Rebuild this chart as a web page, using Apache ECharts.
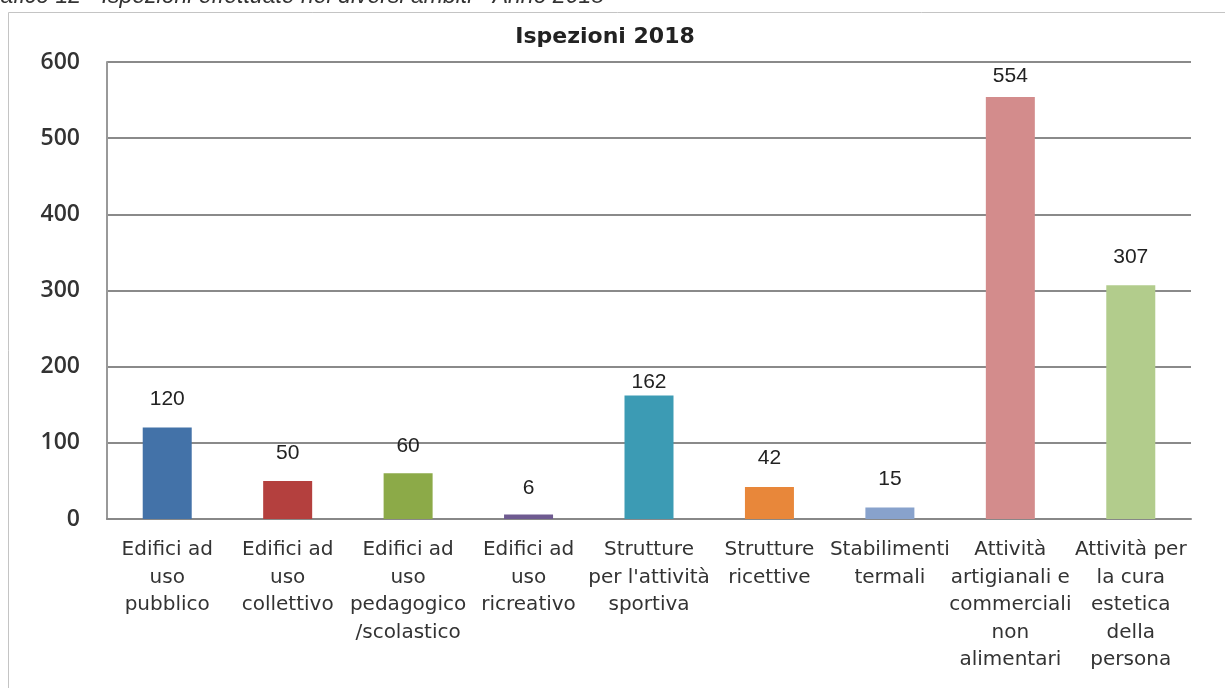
<!DOCTYPE html>
<html><head><meta charset="utf-8">
<script src="https://cdn.jsdelivr.net/npm/echarts@6/dist/echarts.min.js"></script>
<style>html,body{margin:0;padding:0;background:#fff}#c{width:1225px;height:688px}</style>
</head><body><div id="c"></div>
<script>
const categories = [
  "Edifici ad\nuso\npubblico",
  "Edifici ad\nuso\ncollettivo",
  "Edifici ad\nuso\npedagogico\n/scolastico",
  "Edifici ad\nuso\nricreativo",
  "Strutture\nper l'attività\nsportiva",
  "Strutture\nricettive",
  "Stabilimenti\ntermali",
  "Attività\nartigianali e\ncommerciali\nnon\nalimentari",
  "Attività per\nla cura\nestetica\ndella\npersona"
];
const values = [120, 50, 60, 6, 162, 42, 15, 554, 307];
const yTicks = [0, 100, 200, 300, 400, 500, 600];
const titleText = "Ispezioni 2018";
const captionText = "Grafico 12 - Ispezioni effettuate nei diversi ambiti - Anno 2018";

// styling (not data)
const barColors = ["#4372A8", "#B4403E", "#8CAA48", "#6E5A90", "#3C9BB4", "#E8873A", "#88A2CC", "#D38C8C", "#B2CC8C"];
const labelGap = [18, 17, 17, 16, 3, 18, 18, 10, 17];

const chart = echarts.init(document.getElementById('c'));
chart.setOption({
  animation: false,
  backgroundColor: '#fff',
  title: {
    text: titleText, left: 600, top: 21, textAlign: 'center',
    textStyle: { fontFamily: 'DejaVu Sans', fontWeight: 'bold', fontSize: 22, color: '#222' }
  },
  graphic: [
    { type: 'rect', shape: { x: 8.5, y: 12.5, width: 1240, height: 700 }, style: { fill: 'none', stroke: '#c4c4c4', lineWidth: 1 }, z: -1 },
    { type: 'text', left: -25, top: -15, style: { text: captionText, font: 'italic 23px Liberation Sans, Arial', fill: '#333' } }
  ],
  grid: { left: 107, right: 34, top: 62, bottom: 169 },
  xAxis: {
    type: 'category', data: categories,
    axisLine: { lineStyle: { color: '#888', width: 2 } },
    axisTick: { show: false },
    axisLabel: { interval: 0, color: '#333', fontSize: 20, lineHeight: 27.6, margin: 17, fontFamily: 'DejaVu Sans' }
  },
  yAxis: {
    type: 'value', min: yTicks[0], max: yTicks[yTicks.length - 1], interval: 100,
    axisLine: { show: true, lineStyle: { color: '#999', width: 2 } },
    axisTick: { show: false },
    splitLine: { lineStyle: { color: '#8a8a8a', width: 2 } },
    axisLabel: { color: '#333', fontSize: 23, margin: 27, fontFamily: 'Open Sans, Liberation Sans, Arial', fontWeight: 600 }
  },
  series: [{
    type: 'bar', barWidth: 49,
    data: values.map((v, i) => ({ value: v, itemStyle: { color: barColors[i] }, label: { distance: labelGap[i] } })),
    label: { show: true, position: 'top', color: '#222', fontSize: 21, fontFamily: 'Liberation Sans, Arial' }
  }]
});
</script></body></html>
